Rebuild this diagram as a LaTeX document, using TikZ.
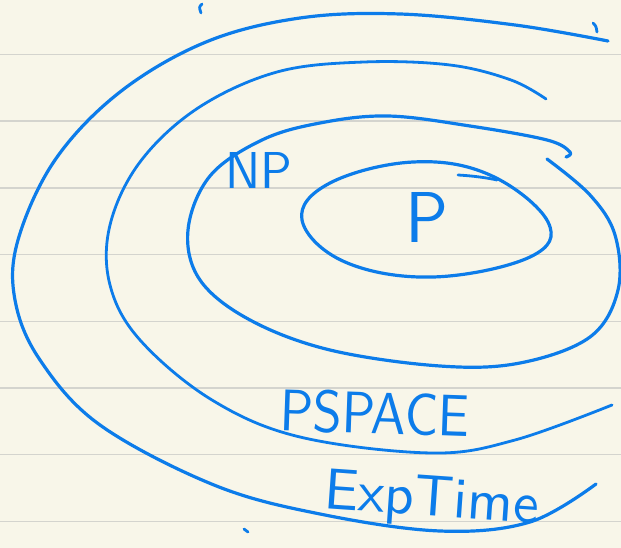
\documentclass[tikz,border=0pt]{standalone}
\usepackage{graphicx}
\definecolor{paper}{RGB}{248,246,233}
\definecolor{rule}{RGB}{212,212,206}
\definecolor{ink}{RGB}{12,124,234}
\tikzset{
  pen/.style={draw=ink, line width=3.2pt, line cap=round, line join=round},
  penthin/.style={draw=ink, line width=2.8pt, line cap=round, line join=round},
  hand/.style={text=ink, inner sep=0pt, font=\sffamily},
}
\begin{document}
\begin{tikzpicture}[x=1pt,y=-1pt]
\useasboundingbox (0,0) rectangle (621,548);
\fill[paper] (0,0) rectangle (621,548);
\foreach \k in {0,...,7}{
  \draw[rule, line width=1.4pt] (0,54.5+66.7*\k) -- (621,54.5+66.7*\k);
}
% ExpTime (outermost)
\draw[pen] plot[smooth, tension=0.6] coordinates {
 (608,41) (515,25) (400,14) (300,18) (206,42) (120,92) (55,160) (18,240)
 (15,300) (40,360) (100,425) (214,485) (320,514) (440,531) (530,522) (596,484)};
% PSPACE
\draw[penthin] plot[smooth, tension=0.6] coordinates {
 (546,99) (511,80) (450,65) (364,62) (277,72) (198,108) (140,162) (110,225)
 (110,285) (140,340) (212,400) (300,437) (432,453) (515,440) (612,405)};
% NP
\draw[pen] plot[smooth, tension=0.6] coordinates {
 (566,157) (570,152) (547,140) (470,126) (388,116) (320,123) (262,140)
 (210,176) (188,230) (200,280) (250,320) (330,350) (440,366) (520,363)
 (590,337) (618,290) (615,235) (590,195) (547,159)};
% P ellipse
\draw[pen] plot[smooth cycle, tension=0.65] coordinates {
 (302,220) (330,183) (413,162) (490,175) (548,222) (530,257) (433,277) (345,262)};
\draw[penthin] (458,175) .. controls (475,176) and (488,178) .. (497,180);
% stray marks
\draw[penthin] (202,4) .. controls (199,7) .. (201,13);
\draw[penthin] (593,23) .. controls (596,26) .. (597,32);
\draw[penthin] (244,529) -- (248,532);
% labels
\node[hand, anchor=base west] (np) at (225,189) {\resizebox{67pt}{36pt}{NP}};
\node[hand, anchor=base west] (p) at (405,243) {\resizebox{43pt}{50pt}{P}};
\node[hand, anchor=base west, rotate=-2] (pspace) at (279,430) {\resizebox{190pt}{42pt}{PSPACE}};
\node[hand, anchor=base west, rotate=-4] (exptime) at (323,508) {\resizebox{215pt}{40pt}{ExpTime}};
\end{tikzpicture}
\end{document}
